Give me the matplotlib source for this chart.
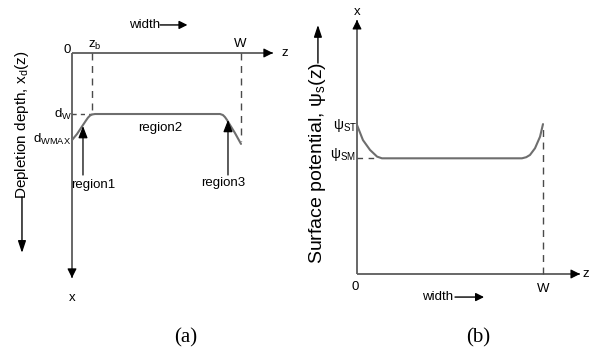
import matplotlib
matplotlib.use("Agg")
import matplotlib.pyplot as plt
from matplotlib import font_manager

# ---- schematic values (W normalised to 1) ----
W = 1.0

# (a) depletion depth profile x_d(z), depth measured downwards
z_b = 0.118
d_W = 0.361
d_WMAX = 0.515
depth_axis_end = 1.331
z_a = [0.0, 0.030, 0.059, 0.083, 0.095, 0.107, 0.118, 0.136,
       0.876, 0.893, 0.905, 0.917, 0.935, 0.964, 1.0]
xd_a = [0.515, 0.479, 0.435, 0.399, 0.382, 0.370, 0.364, 0.361,
        0.361, 0.367, 0.379, 0.396, 0.426, 0.473, 0.538]
region_labels_a = ["region1", "region2", "region3"]
region_arrow_z = [0.065, 0.923]
region_arrow_tip = [0.432, 0.396]

# (b) surface potential profile psi_s(z)
psi_ST = 0.801
psi_SM = 0.622
psi_axis_end = 1.366
z_b2 = [0.0, 0.032, 0.070, 0.108, 0.134,
        0.887, 0.910, 0.930, 0.957, 0.984, 1.0]
psi_b = [0.801, 0.720, 0.667, 0.631, 0.622,
         0.622, 0.628, 0.640, 0.676, 0.738, 0.806]

# ---- fonts ----
names = {f.name for f in font_manager.fontManager.ttflist}
NARROW = "Liberation Sans Narrow" in names
SANS = "Liberation Sans Narrow" if NARROW else "Liberation Sans"
LBL = 11 if NARROW else 9.5
plt.rcParams["font.family"] = [SANS, "DejaVu Sans"]
plt.rcParams["mathtext.fontset"] = "custom"
plt.rcParams["mathtext.rm"] = SANS
plt.rcParams["mathtext.it"] = SANS
plt.rcParams["mathtext.bf"] = SANS

AXIS = "#5c5c5c"
CURVE = "#6e6e6e"
DASH = "#4a4a4a"

FW, FH = 604, 359
fig = plt.figure(figsize=(FW / 100, FH / 100), dpi=100)


def panel(px0, px1, ox, oy, s, down):
    ax = fig.add_axes([px0 / FW, 0, (px1 - px0) / FW, 1])
    ax.set_xlim((px0 - ox) / s, (px1 - ox) / s)
    if down:
        ax.set_ylim((FH - oy) / s, -oy / s)
    else:
        ax.set_ylim((oy - FH) / s, oy / s)
    ax.axis("off")
    return ax


def arrow(ax, start, end, color, lw, ms, hl=0.7, hw=0.35):
    ax.annotate("", xy=end, xytext=start,
                arrowprops=dict(arrowstyle=f"-|>,head_length={hl},head_width={hw}",
                                color=color, lw=lw, mutation_scale=ms,
                                shrinkA=0, shrinkB=0))


def axis_line(ax, start, end):
    # grey shaft with a solid black head
    x0, y0 = start
    x1, y1 = end
    ax.plot([x0, x1], [y0, y1], color=AXIS, lw=1.3, solid_capstyle="butt")
    fx = x0 + (x1 - x0) * 0.97
    fy = y0 + (y1 - y0) * 0.97
    arrow(ax, (fx, fy), end, "black", 0.8, 8)


# =================== (a) ===================
axa = panel(0, 302, 72, 53, 169, True)
axis_line(axa, (0, 0), (1.189, 0))
axis_line(axa, (0, 0), (0, depth_axis_end))
axa.plot([z_b, z_b], [0, d_W], ls=(0, (5, 4)), color=DASH, lw=1.0)
axa.plot([W, W], [0, xd_a[-1] - 0.02], ls=(0, (5, 4)), color=DASH, lw=1.0)
axa.plot([0, z_b], [d_W, d_W], ls=(0, (3, 3)), color=DASH, lw=1.0)
axa.plot(z_a, xd_a, color=CURVE, lw=1.5, solid_capstyle="round")

axa.text(1.237, 0, "z", fontsize=LBL, ha="left", va="center")
axa.text(-0.006, -0.018, "0", fontsize=LBL, ha="right", va="center")
axa.text(z_b + 0.018, -0.047, r"z$_{\mathrm{b}}$", fontsize=LBL, ha="center", va="center")
axa.text(W - 0.006, -0.056, "W", fontsize=LBL, ha="center", va="center")
axa.text(0.432, -0.166, "width", fontsize=LBL, ha="center", va="center")
arrow(axa, (0.521, -0.166), (0.683, -0.166), "black", 1.0, 7)
axa.text(0, 1.447, "x", fontsize=LBL, ha="center", va="center")
axa.text(0.004, d_W + 0.004, r"d$_{\mathrm{W}}$", fontsize=LBL, ha="right", va="center")
axa.text(-0.004, d_WMAX - 0.004, r"d$_{\mathrm{WMAX}}$", fontsize=LBL, ha="right", va="center")

axa.text(0.521, 0.444, region_labels_a[1], fontsize=LBL, ha="center", va="center")
axa.text(0.124, 0.781, region_labels_a[0], fontsize=LBL, ha="center", va="center")
axa.text(0.893, 0.769, region_labels_a[2], fontsize=LBL, ha="center", va="center")
for zz, tip in zip(region_arrow_z, region_arrow_tip):
    arrow(axa, (zz, 0.722), (zz, tip), "black", 0.9, 8, hl=0.9, hw=0.35)

axa.text(-0.296, 0.426, r"Depletion depth, x$_{\mathrm{d}}$(z)", fontsize=11,
         family="Liberation Sans", rotation=90, ha="center", va="center")
arrow(axa, (-0.296, 0.852), (-0.296, 1.183), "black", 1.0, 8, hl=0.9, hw=0.3)
axa.text(0.675, 1.686, "(a)", fontsize=15, family="Liberation Serif",
         ha="center", va="center")

# =================== (b) ===================
axb = panel(302, 604, 357, 274, 186, False)
axis_line(axb, (0, 0), (1.199, 0))
axis_line(axb, (0, 0), (0, psi_axis_end))
axb.plot([W, W], [0, psi_b[-1]], ls=(0, (5, 4)), color=DASH, lw=1.0)
axb.plot([0, 0.113], [psi_SM, psi_SM], ls=(0, (4, 4)), color=DASH, lw=1.0)
axb.plot(z_b2, psi_b, color=CURVE, lw=1.5, solid_capstyle="round")

axb.text(1.231, 0, "z", fontsize=LBL, ha="center", va="center")
axb.text(0, 1.409, "x", fontsize=LBL, ha="center", va="center")
axb.text(-0.011, -0.070, "0", fontsize=LBL, ha="center", va="center")
axb.text(W, -0.081, "W", fontsize=LBL, ha="center", va="center")
axb.text(0.435, -0.124, "width", fontsize=LBL, ha="center", va="center")
arrow(axb, (0.527, -0.124), (0.683, -0.124), "black", 1.0, 7)
axb.text(0.0, psi_ST + 0.0, r"ψ$_{\mathrm{ST}}$", fontsize=LBL + 0.5, ha="right", va="center")
axb.text(-0.004, psi_SM + 0.02, r"ψ$_{\mathrm{SM}}$", fontsize=LBL + 0.5, ha="right", va="center")

axb.text(-0.210, 0.597, r"Surface potential, ψ$_{\mathrm{s}}$(z)", fontsize=14,
         family="Liberation Sans", rotation=90, ha="center", va="center")
arrow(axb, (-0.210, 1.134), (-0.210, 1.339), "black", 1.0, 8, hl=0.9, hw=0.3)
axb.text(0.651, -0.344, "(b)", fontsize=15, family="Liberation Serif",
         ha="center", va="center")

fig.savefig("out.png", dpi=100)
